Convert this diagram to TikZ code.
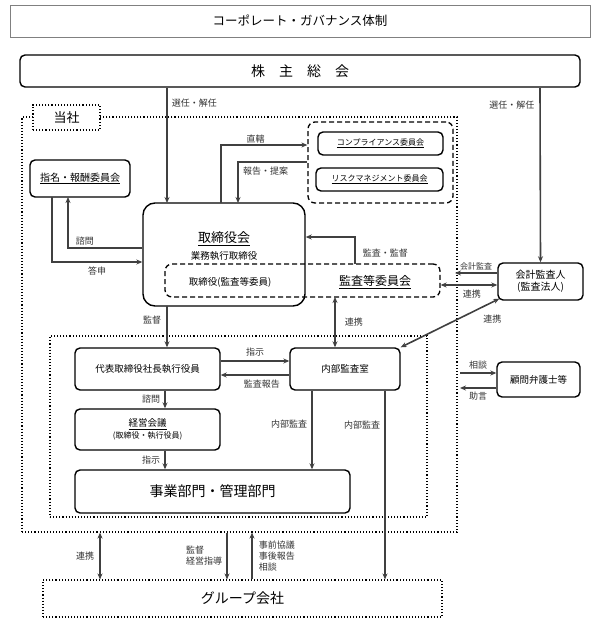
\documentclass[tikz,border=0pt]{standalone}
\usepackage{fontspec}
\newfontfamily\jp{Noto Sans CJK JP}
\usetikzlibrary{positioning, calc, arrows.meta}

\tikzset{
    box/.style={draw, line width=1.4pt, rounded corners=5pt, align=center, inner sep=1pt},
    grp/.style={draw, line width=1.1pt, dotted, inner sep=0pt},
    dsh/.style={draw, line width=1.3pt, dash pattern=on 5pt off 3pt, rounded corners=7pt, inner sep=0pt},
    arr/.style={draw=black!75, line width=1.6pt, -{Stealth[length=6pt,width=5pt]}},
    darr/.style={arr, {Stealth[length=6pt,width=5pt]}-{Stealth[length=6pt,width=5pt]}},
    lbl/.style={font=\jp\fontsize{9}{11}\selectfont, text=black!80, inner sep=1pt},
}

\begin{document}
\begin{tikzpicture}[x=1pt, y=-1pt, font=\jp\fontsize{9.5}{11.5}\selectfont]
\useasboundingbox (0,0) rectangle (600,621);

    % Title and shareholders
    \node[draw=black!50, minimum width=580pt, minimum height=32pt, font=\jp\fontsize{12.5}{14}\selectfont] (title) at (300,21) {コーポレート・ガバナンス体制};
    \node[box, minimum width=560pt, minimum height=32pt, font=\jp\fontsize{14}{16}\selectfont] (share) at (300,71) {株\quad 主\quad 総\quad 会};

    % Company frames
    \node[grp, minimum width=435pt, minimum height=415pt] (co) at (239.5,324.5) {};
    \node[grp, fill=white, minimum width=67pt, minimum height=25pt, font=\jp\fontsize{13}{15}\selectfont] (colbl) at (66.5,117.5) {当社};
    \node[grp, minimum width=377pt, minimum height=181pt] (exec) at (238.5,426.5) {};

    % Board level
    \node[box, rounded corners=12pt, minimum width=162pt, minimum height=103pt] (board) at (224,254.5) {};
    \node[font=\jp\fontsize{13}{15}\selectfont] (boardt) at (224,239) {\underline{取締役会}};
    \node (bexec) at (224,256) {業務執行取締役};
    \node[dsh, minimum width=275pt, minimum height=33pt] (audc) at (302.5,280.5) {};
    \node (bauddir) at (230,282) {取締役(監査等委員)};
    \node[font=\jp\fontsize{12}{14}\selectfont] (audt) at (375,282) {\underline{監査等委員会}};

    \node[box, minimum width=100pt, minimum height=37pt, font=\jp\fontsize{10}{12}\selectfont] (nom) at (80,178.5) {\underline{指名・報酬委員会}};
    \node[dsh, minimum width=145pt, minimum height=81pt] (cmte) at (380.5,162.5) {};
    \node[box, minimum width=125pt, minimum height=23pt, font=\jp\fontsize{8}{9}\selectfont] (comp) at (380.5,143.5) {\underline{コンプライアンス委員会}};
    \node[box, minimum width=127pt, minimum height=23pt, font=\jp\fontsize{8}{9}\selectfont] (risk) at (379.5,179.5) {\underline{リスクマネジメント委員会}};

    \node[box, minimum width=85pt, minimum height=37pt, font=\jp\fontsize{10}{12}\selectfont] (acct) at (540.5,281.5) {会計監査人\\(監査法人)};
    \node[box, minimum width=83pt, minimum height=35pt] (lawyer) at (538.5,379.5) {顧問弁護士等};

    % Executive level
    \node[box, minimum width=145pt, minimum height=42pt] (ceo) at (147.5,369) {代表取締役社長執行役員};
    \node[box, minimum width=110pt, minimum height=42pt] (iaud) at (345,369) {内部監査室};
    \node[box, minimum width=145pt, minimum height=41pt] (mgmt) at (147.5,429.5) {\underline{経営会議}\\{\fontsize{8}{10}\selectfont (取締役・執行役員)}};
    \node[box, minimum width=275pt, minimum height=43pt, font=\jp\fontsize{14}{16}\selectfont] (dept) at (212.5,491.5) {事業部門・管理部門};

    \node[grp, minimum width=399pt, minimum height=37pt, font=\jp\fontsize{14}{16}\selectfont] (group) at (242.5,598.5) {グループ会社};

    % Arrows
    \draw[arr] (167,88) -- (167,203) node[lbl, pos=0.13, right=3pt] {選任・解任};
    \draw[arr] (540,88) -- (acct.north) node[lbl, pos=0.1, left=4pt] {選任・解任};
    \draw[arr] (221,203) |- (cmte.west |- 0,145) node[lbl, pos=0.7, above] {直轄};
    \draw[arr] (cmte.west |- 0,162) -| (238,203) node[lbl, pos=0.3, below=3pt] {報告・提案};
    \draw[arr] (board.west |- 0,248) -| (68,197) node[lbl, pos=0.3, above left=1pt and 2pt] {諮問};
    \draw[arr] (52,197) |- (board.west |- 0,262) node[lbl, pos=0.75, below=3pt] {答申};
    \draw[arr] (355,264) |- (board.east |- 0,237) node[lbl, pos=0.2, right=6pt] {監査・監督};
    \coordinate (acctend) at (455,273);
    \draw[arr] (acct.west |- 0,273) -- (acctend) node[lbl, above=1pt, pos=0.5, font=\jp\fontsize{8}{9}\selectfont] {会計監査};
    \draw[darr] (audc.east |- 0,285) -- (acct.west |- 0,285) node[lbl, pos=0.55, below=3pt] {連携};
    \draw[darr] (acct.south west) ++(2,-2) -- (iaud.north east) node[lbl, pos=0.2, below right=5pt and 2pt] {連携};

    \draw[arr] (167,306) -- (ceo.north -| 167,0) node[lbl, pos=0.35, left=4pt] {監督};
    \draw[darr] (335,297) -- (iaud.north -| 335,0) node[lbl, midway, right=8pt] {連携};
    \draw[arr] (ceo.east |- 0,361) -- (iaud.west |- 0,361) node[lbl, midway, above=3pt] {指示};
    \draw[arr] (iaud.west |- 0,375) -- (ceo.east |- 0,375) node[lbl, pos=0.4, below=3pt] {監査報告};
    \draw[arr] (ceo.south -| 165,0) -- (mgmt.north -| 165,0) node[lbl, midway, left=3pt] {諮問};
    \draw[arr] (mgmt.south -| 165,0) -- (dept.north -| 165,0) node[lbl, midway, left=3pt] {指示};
    \draw[arr] (iaud.south -| 312,0) -- (dept.north -| 312,0) node[lbl, pos=0.42, left=3pt] {内部監査};
    \draw[arr] (iaud.south -| 385,0) -- (group.north -| 385,0) node[lbl, pos=0.18, left=3pt] {内部監査};
    \draw[arr] (460,373) -- (lawyer.west |- 0,373) node[lbl, pos=0.5, above=2pt] {相談};
    \draw[arr] (lawyer.west |- 0,388) -- (460,388) node[lbl, pos=0.5, below=2pt] {助言};

    \draw[darr] (co.south -| 100,0) -- (group.north -| 100,0) node[lbl, midway, left=4pt] {連携};
    \draw[arr] (co.south -| 227,0) -- (group.north -| 227,0) node[lbl, midway, left=3pt, align=left] {監督\\経営指導};
    \draw[arr] (group.north -| 252,0) -- (co.south -| 252,0) node[lbl, midway, right=5pt, align=left] {事前協議\\事後報告\\相談};

\end{tikzpicture}
\end{document}
